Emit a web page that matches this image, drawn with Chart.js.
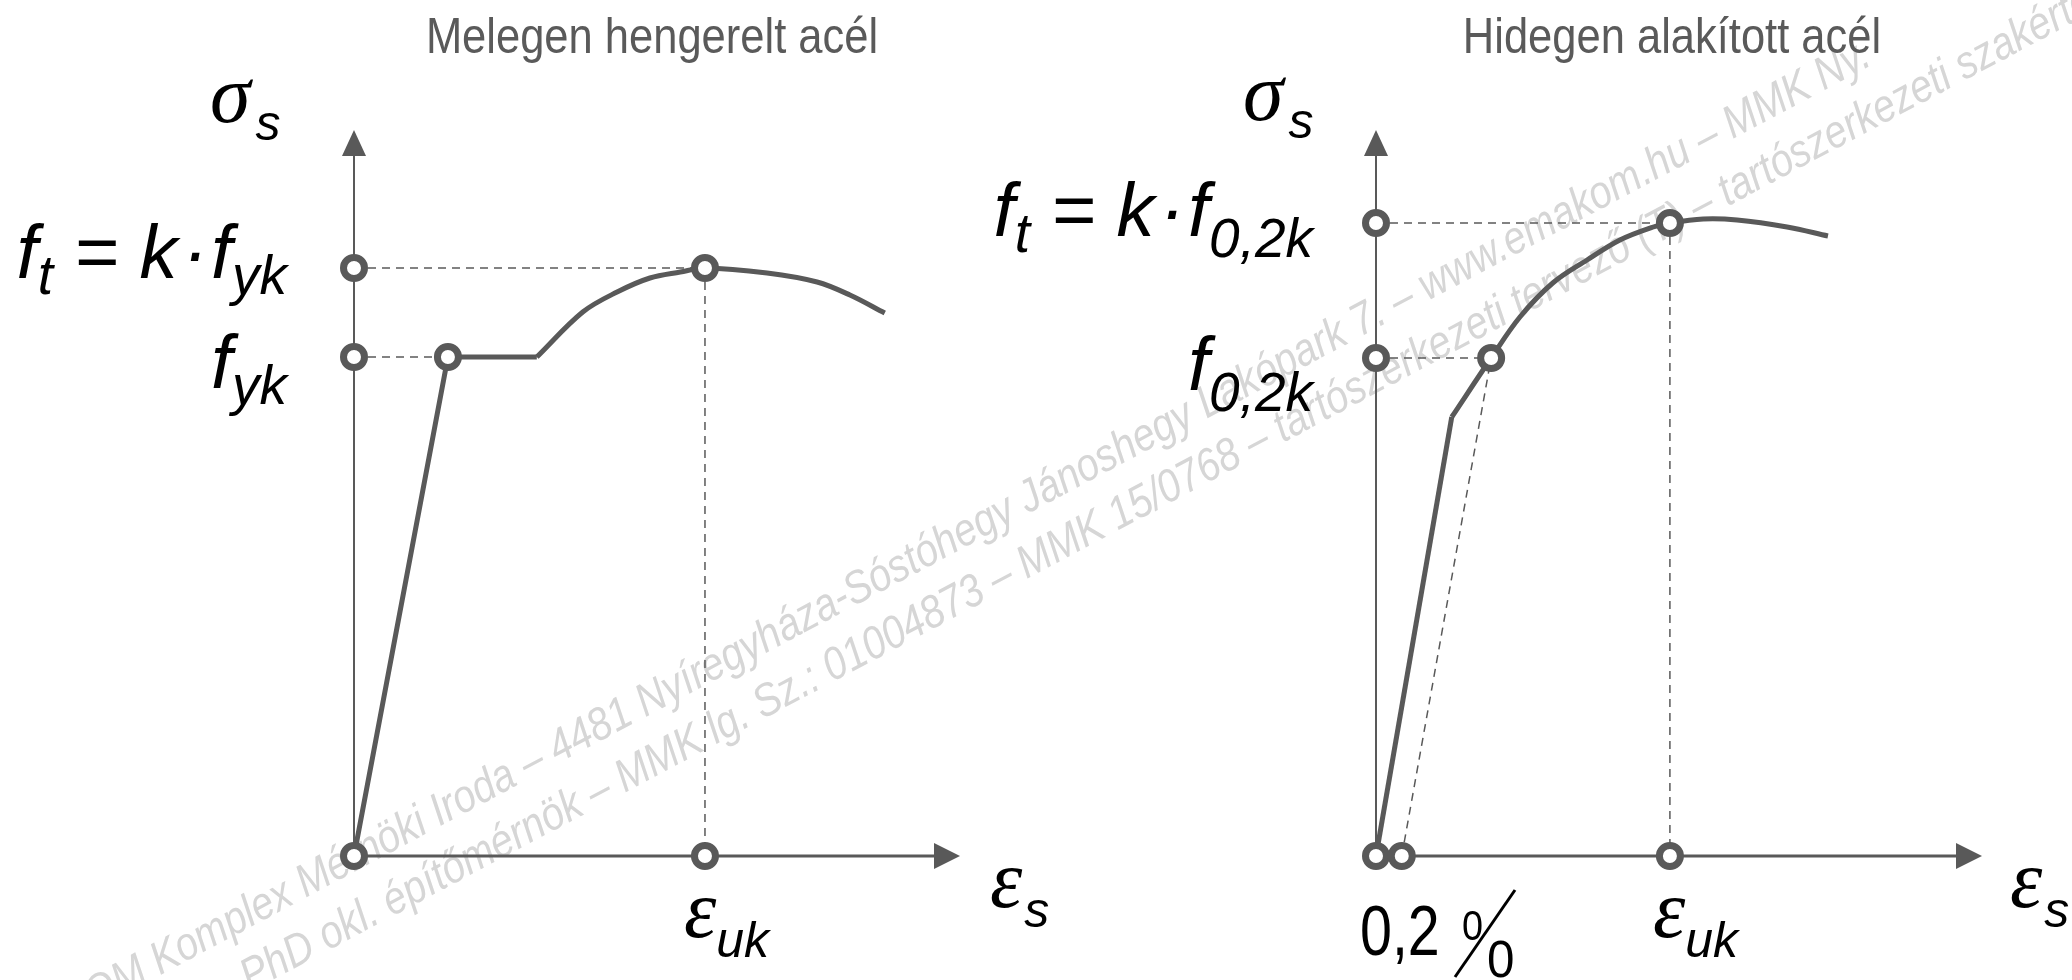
<!DOCTYPE html>
<html>
<head>
<meta charset="utf-8">
<title>Acél feszültség-alakváltozás</title>
<script src="https://cdn.jsdelivr.net/npm/chart.js@4.4.1/dist/chart.umd.min.js"></script>
<style>
    html, body { margin: 0; padding: 0; background: #fff; }
    #wrap { position: relative; width: 2072px; height: 980px; overflow: hidden; }
    canvas { position: absolute; top: 0; }
    #hot { left: 0; }
    #cold { left: 990px; }
</style>
</head>
<body>
<div id="wrap">
    <canvas id="hot" width="1100" height="980"></canvas>
    <canvas id="cold" width="1082" height="980"></canvas>
</div>
<script>
"use strict";

// axis ranges (strain in arbitrary units, stress in arbitrary units)
let X_MAX = 12;
let Y_MAX = 726;

// Melegen hengerelt acél
let HOT_ELASTIC_X = [0, 1.86, 3.62];
let HOT_ELASTIC_Y = [0, 499, 499];
let HOT_CURVE_X = [3.62, 4.53, 5.21, 5.86, 6.46, 6.95, 8.18, 9.17, 9.82, 10.51];
let HOT_CURVE_Y = [499, 544, 564, 578, 584, 588, 583, 574, 561, 543];
let HOT_FYK = 499;
let HOT_FT = 588;
let HOT_EPS_Y = 1.86;
let HOT_EPS_UK = 6.95;

// Hidegen alakított acél
let COLD_ELASTIC_X = [0, 1.50];
let COLD_ELASTIC_Y = [0, 439];
let COLD_CURVE_X = [1.50, 2.28, 2.85, 3.50, 4.18, 4.83, 5.49, 5.82, 6.48, 7.15, 8.14, 8.95];
let COLD_CURVE_Y = [439, 498, 539, 573, 596, 616, 629, 633, 637, 636, 629, 620];
let COLD_F02 = 498;
let COLD_FT = 633;
let COLD_EPS_02 = 2.28;
let COLD_OFFSET = 0.51;
let COLD_EPS_UK = 5.82;

let WATERMARK = [
    "EMAKOM Komplex Mérnöki Iroda – 4481 Nyíregyháza-Sóstóhegy Jánoshegy Lakópark 7. – www.emakom.hu – MMK Ny.",
    "PhD okl. építőmérnök – MMK lg. Sz.: 01004873 – MMK 15/0768 – tartószerkezeti tervező (T) – tartószerkezeti szakértő"
];

let INK = "#595959";
let MATH = "italic 76px 'Liberation Sans', Arial, sans-serif";
let SUB = "italic 55px 'Liberation Sans', Arial, sans-serif";
let GREEK = "italic 82px 'Liberation Serif', 'DejaVu Serif', serif";
let GSUB = "italic 50px 'Liberation Sans', Arial, sans-serif";
let TITLE = "50px 'Liberation Sans', Arial, sans-serif";

function pts(xs, ys) {
    return xs.map(function(x, i) { return { x: x, y: ys[i] }; });
}

function lineSet(data, width, dash, tension) {
    return {
        data: data,
        showLine: true,
        borderColor: INK,
        borderWidth: width,
        borderDash: dash || [],
        tension: tension || 0,
        pointRadius: 0,
        clip: false,
        order: dash ? 3 : 2
    };
}

function markerSet(data) {
    return {
        data: data,
        showLine: false,
        pointRadius: 10.5,
        pointBorderWidth: 7,
        pointBorderColor: INK,
        pointBackgroundColor: "#fff",
        clip: false,
        order: 0
    };
}

function textRuns(ctx, parts, x, y, align) {
    let widths = parts.map(function(p) {
        ctx.font = p.font;
        return ctx.measureText(p.text).width * (p.sx || 1) + (p.dx || 0);
    });
    let total = widths.reduce(function(a, b) { return a + b; }, 0);
    let cx = x;
    if (align === "right") cx = x - total;
    if (align === "center") cx = x - total / 2;
    parts.forEach(function(p, i) {
        ctx.save();
        ctx.font = p.font;
        ctx.textAlign = "left";
        ctx.textBaseline = "alphabetic";
        ctx.translate(cx + (p.dx || 0), y + (p.dy || 0));
        ctx.scale(p.sx || 1, 1);
        ctx.fillText(p.text, 0, 0);
        ctx.restore();
        cx += widths[i];
    });
}

let axisArrows = {
    id: "axisArrows",
    beforeDatasetsDraw: function(chart) {
        let ctx = chart.ctx;
        let a = chart.chartArea;
        let x0 = chart.scales.x.getPixelForValue(0);
        let y0 = chart.scales.y.getPixelForValue(0);
        ctx.save();
        ctx.strokeStyle = INK;
        ctx.fillStyle = INK;
        ctx.lineWidth = 2;
        ctx.beginPath();
        ctx.moveTo(x0, y0);
        ctx.lineTo(x0, a.top + 24);
        ctx.stroke();
        ctx.beginPath();
        ctx.moveTo(x0, a.top);
        ctx.lineTo(x0 - 12, a.top + 26);
        ctx.lineTo(x0 + 12, a.top + 26);
        ctx.closePath();
        ctx.fill();
        ctx.lineWidth = 3;
        ctx.beginPath();
        ctx.moveTo(x0, y0);
        ctx.lineTo(a.right - 24, y0);
        ctx.stroke();
        ctx.beginPath();
        ctx.moveTo(a.right, y0);
        ctx.lineTo(a.right - 26, y0 - 13);
        ctx.lineTo(a.right - 26, y0 + 13);
        ctx.closePath();
        ctx.fill();
        ctx.restore();
    }
};

// faint diagonal watermark, split between the two canvases
let watermark = {
    id: "watermark",
    beforeDraw: function(chart, args, opts) {
        let ctx = chart.ctx;
        ctx.save();
        ctx.beginPath();
        ctx.rect(opts.clipFrom - opts.offset, 0, opts.clipTo - opts.clipFrom, 980);
        ctx.clip();
        ctx.translate(-opts.offset, 0);
        ctx.font = "italic 46px 'Liberation Sans', Arial, sans-serif";
        ctx.fillStyle = "#d6d6d6";
        ctx.textBaseline = "alphabetic";
        let ang = -28 * Math.PI / 180;
        let c = Math.cos(ang), s = Math.sin(ang);
        let squeeze = 0.86;
        let line1 = WATERMARK[0];
        let pre = ctx.measureText(line1.slice(0, line1.indexOf("rnöki"))).width * squeeze;
        ctx.save();
        ctx.translate(354 - pre * c, 872 - pre * s);
        ctx.rotate(ang);
        ctx.scale(squeeze, 1);
        ctx.fillText(line1, 0, 0);
        ctx.restore();
        ctx.save();
        ctx.translate(250, 992);
        ctx.rotate(ang);
        ctx.scale(squeeze, 1);
        ctx.fillText(WATERMARK[1], 0, 0);
        ctx.restore();
        ctx.restore();
    }
};

let labels = {
    id: "labels",
    afterDraw: function(chart, args, opts) {
        let ctx = chart.ctx;
        let sx = chart.scales.x, sy = chart.scales.y;
        let a = chart.chartArea;
        let px = function(v) { return sx.getPixelForValue(v); };
        let py = function(v) { return sy.getPixelForValue(v); };
        ctx.save();
        ctx.fillStyle = "#5a5a5a";
        textRuns(ctx, [{ text: opts.title, font: TITLE, sx: 0.87 }], a.left + opts.titleDx, 53, "center");
        ctx.fillStyle = "#000";
        opts.draw(ctx, a, px, py);
        ctx.restore();
    }
};

function createPanel(canvas, cfg) {
    return new Chart(canvas, {
        type: "scatter",
        data: { datasets: cfg.datasets },
        options: {
            responsive: false,
            maintainAspectRatio: false,
            devicePixelRatio: 1,
            animation: false,
            layout: { padding: cfg.padding },
            scales: {
                x: { type: "linear", min: 0, max: X_MAX, display: false },
                y: { type: "linear", min: 0, max: Y_MAX, display: false }
            },
            plugins: {
                legend: { display: false },
                tooltip: { enabled: false },
                watermark: cfg.watermark,
                labels: cfg.labels
            }
        },
        plugins: [watermark, axisArrows, labels]
    });
}

let hot = createPanel(document.getElementById("hot"), {
    padding: { left: 354, right: 140, top: 130, bottom: 124 },
    watermark: { offset: 0, clipFrom: 0, clipTo: 1036 },
    datasets: [
        markerSet([
            { x: 0, y: 0 }, { x: 0, y: HOT_FYK }, { x: 0, y: HOT_FT },
            { x: HOT_EPS_Y, y: HOT_FYK }, { x: HOT_EPS_UK, y: HOT_FT }, { x: HOT_EPS_UK, y: 0 }
        ]),
        lineSet(pts(HOT_ELASTIC_X, HOT_ELASTIC_Y), 5),
        lineSet(pts(HOT_CURVE_X, HOT_CURVE_Y), 5, null, 0.35),
        lineSet([{ x: 0, y: HOT_FT }, { x: HOT_EPS_UK, y: HOT_FT }], 1.5, [8, 6]),
        lineSet([{ x: 0, y: HOT_FYK }, { x: HOT_EPS_Y, y: HOT_FYK }], 1.5, [8, 6]),
        lineSet([{ x: HOT_EPS_UK, y: HOT_FT }, { x: HOT_EPS_UK, y: 0 }], 1.5, [8, 6])
    ],
    labels: {
        title: "Melegen hengerelt acél",
        titleDx: 298,
        draw: function(ctx, a, px, py) {
            textRuns(ctx, [{ text: "σ", font: GREEK }, { text: "s", font: GSUB, dy: 18, dx: 5 }], a.left - 144, a.top - 8, "left");
            textRuns(ctx, [
                { text: "f", font: MATH }, { text: "t", font: SUB, dy: 16 },
                { text: " = k", font: MATH }, { text: "·", font: MATH, dx: 5 },
                { text: "f", font: MATH, dx: 3 }, { text: "yk", font: SUB, dy: 16 }
            ], a.left - 67, py(HOT_FT) + 10, "right");
            textRuns(ctx, [{ text: "f", font: MATH }, { text: "yk", font: SUB, dy: 16 }], a.left - 67, py(HOT_FYK) + 31, "right");
            textRuns(ctx, [{ text: "ε", font: GREEK }, { text: "s", font: GSUB, dy: 20, dx: 2 }], a.right + 30, a.bottom + 51, "left");
            textRuns(ctx, [{ text: "ε", font: GREEK }, { text: "uk", font: GSUB, dy: 20 }], px(HOT_EPS_UK) - 21, a.bottom + 81, "left");
        }
    }
});

let cold = createPanel(document.getElementById("cold"), {
    padding: { left: 386, right: 90, top: 130, bottom: 124 },
    watermark: { offset: 990, clipFrom: 1036, clipTo: 2072 },
    datasets: [
        markerSet([
            { x: 0, y: 0 }, { x: COLD_OFFSET, y: 0 }, { x: 0, y: COLD_F02 }, { x: 0, y: COLD_FT },
            { x: COLD_EPS_02, y: COLD_F02 }, { x: COLD_EPS_UK, y: COLD_FT }, { x: COLD_EPS_UK, y: 0 }
        ]),
        lineSet(pts(COLD_ELASTIC_X, COLD_ELASTIC_Y), 5),
        lineSet(pts(COLD_CURVE_X, COLD_CURVE_Y), 5, null, 0.35),
        lineSet([{ x: 0, y: COLD_FT }, { x: COLD_EPS_UK, y: COLD_FT }], 1.5, [8, 6]),
        lineSet([{ x: 0, y: COLD_F02 }, { x: COLD_EPS_02, y: COLD_F02 }], 1.5, [8, 6]),
        lineSet([{ x: COLD_EPS_UK, y: COLD_FT }, { x: COLD_EPS_UK, y: 0 }], 1.5, [8, 6]),
        lineSet([{ x: COLD_OFFSET, y: 0 }, { x: COLD_EPS_02, y: COLD_F02 }], 1.5, [8, 6])
    ],
    labels: {
        title: "Hidegen alakított acél",
        titleDx: 296,
        draw: function(ctx, a, px, py) {
            textRuns(ctx, [{ text: "σ", font: GREEK }, { text: "s", font: GSUB, dy: 18, dx: 5 }], a.left - 133, a.top - 10, "left");
            textRuns(ctx, [
                { text: "f", font: MATH }, { text: "t", font: SUB, dy: 16 },
                { text: " = k", font: MATH }, { text: "·", font: MATH, dx: 5 },
                { text: "f", font: MATH, dx: 3 }, { text: "0,2k", font: SUB, dy: 21 }
            ], a.left - 63, py(COLD_FT) + 13, "right");
            textRuns(ctx, [{ text: "f", font: MATH }, { text: "0,2k", font: SUB, dy: 21 }], a.left - 63, py(COLD_F02) + 32, "right");
            textRuns(ctx, [{ text: "ε", font: GREEK }, { text: "s", font: GSUB, dy: 20, dx: 2 }], a.right + 28, a.bottom + 51, "left");
            textRuns(ctx, [{ text: "ε", font: GREEK }, { text: "uk", font: GSUB, dy: 20 }], px(COLD_EPS_UK) - 17, a.bottom + 81, "left");
            // 0,2 %
            let x0 = px(0);
            textRuns(ctx, [{ text: "0,2", font: "70px 'Liberation Sans', Arial, sans-serif", sx: 0.82 }], x0 - 16, a.bottom + 99, "left");
            textRuns(ctx, [{ text: "0", font: "42px 'Liberation Sans', Arial, sans-serif", sx: 0.9 }], x0 + 86, a.bottom + 84, "left");
            textRuns(ctx, [{ text: "0", font: "52px 'Liberation Sans', Arial, sans-serif", sx: 0.95 }], x0 + 111, a.bottom + 121, "left");
            ctx.strokeStyle = "#000";
            ctx.lineWidth = 3;
            ctx.beginPath();
            ctx.moveTo(x0 + 79, a.bottom + 121);
            ctx.lineTo(x0 + 139, a.bottom + 34);
            ctx.stroke();
        }
    }
});
</script>
</body>
</html>
